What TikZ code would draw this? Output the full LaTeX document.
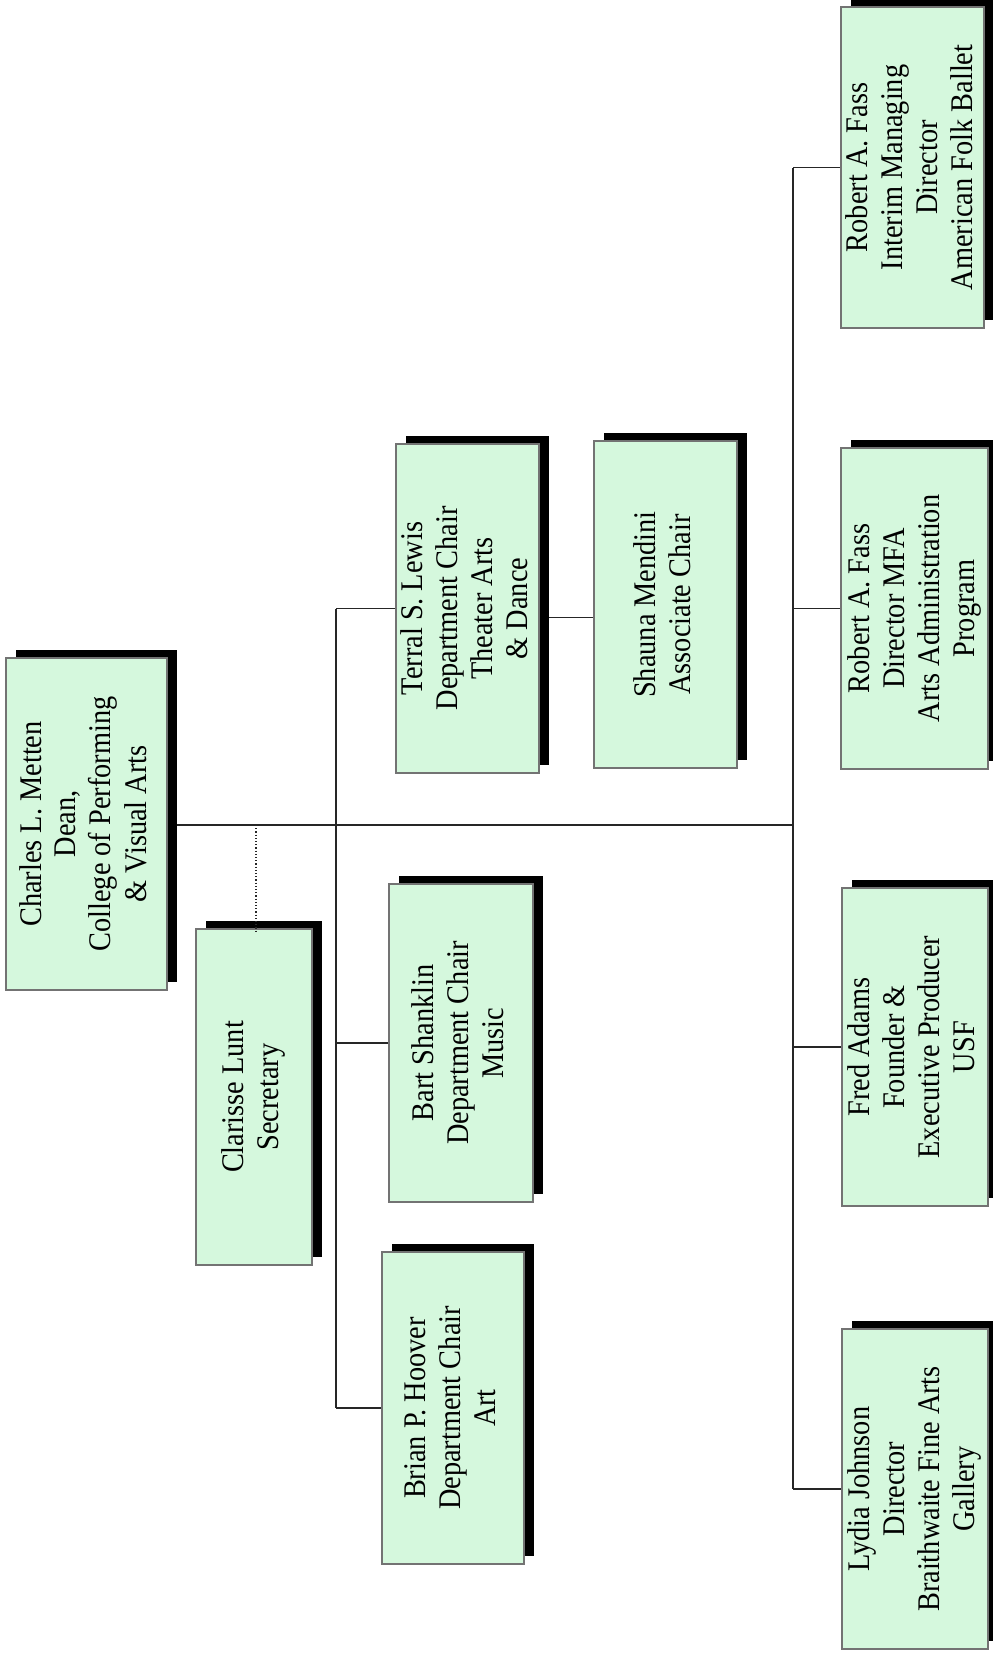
\documentclass[tikz,border=0pt]{standalone}
\usepackage{fontspec}
\setmainfont{Liberation Serif}[FakeStretch=0.9]
\usetikzlibrary{shadows,backgrounds}
\definecolor{boxgreen}{RGB}{213,248,221}
\definecolor{boxedge}{RGB}{115,115,115}
\newcommand{\boxtext}[1]{\rotatebox{90}{\fontsize{31.5}{35}\selectfont\begin{tabular}{@{}c@{}}#1\end{tabular}}}
\begin{document}
\begin{tikzpicture}[x=1pt,y=-1pt,
  orgbox/.style={draw=boxedge, line width=1.2pt, fill=boxgreen, inner sep=0pt,
    general shadow={fill=black, shadow xshift=10pt, shadow yshift=8pt}},
  wire/.style={draw=black!85, line width=1.2pt}]
\useasboundingbox (0,0) rectangle (993,1655);

\node[orgbox, minimum width=161pt, minimum height=332pt] (dean) at (86.5,824) {\boxtext{Charles L. Metten\\Dean,\\College of Performing\\\& Visual Arts}};
\node[orgbox, minimum width=116pt, minimum height=336pt] (sec) at (254,1097) {\boxtext{Clarisse Lunt\\Secretary}};
\node[orgbox, minimum width=143pt, minimum height=329pt] (terral) at (467.5,608.5) {\boxtext{Terral S. Lewis\\Department Chair\\Theater Arts\\\& Dance}};
\node[orgbox, minimum width=143pt, minimum height=327pt] (shauna) at (665.5,604.5) {\boxtext{Shauna Mendini\\Associate Chair}};
\node[orgbox, minimum width=144pt, minimum height=318pt] (bart) at (461,1043) {\boxtext{Bart Shanklin\\Department Chair\\Music}};
\node[orgbox, minimum width=142pt, minimum height=312pt] (brian) at (453,1408) {\boxtext{Brian P. Hoover\\Department Chair\\Art}};
\node[orgbox, minimum width=143pt, minimum height=321pt] (afb) at (912.5,167.5) {\boxtext{Robert A. Fass\\Interim Managing\\Director\\American Folk Ballet}};
\node[orgbox, minimum width=147pt, minimum height=321pt] (mfa) at (914.5,608.5) {\boxtext{Robert A. Fass\\Director MFA\\Arts Administration\\Program}};
\node[orgbox, minimum width=146pt, minimum height=318pt] (fred) at (915,1047) {\boxtext{Fred Adams\\Founder \&\\Executive Producer\\USF}};
\node[orgbox, minimum width=146pt, minimum height=320pt] (lydia) at (915,1489) {\boxtext{Lydia Johnson\\Director\\Braithwaite Fine Arts\\Gallery}};

\coordinate (rj) at (793,825);
\coordinate (lj) at (336,825);

\begin{pgfonlayer}{background}
\draw[wire] (dean.east |- rj) -- (rj);
\draw[wire] (lj |- terral.west) -- (lj |- brian.west);
\draw[wire] (lj |- terral.west) -- (terral.west);
\draw[wire] (lj |- bart.west) -- (bart.west);
\draw[wire] (lj |- brian.west) -- (brian.west);
\draw[wire] ([yshift=-9pt]terral.east) -- ([yshift=-9pt]terral.east -| shauna.west);
\draw[wire] (rj |- afb.west) -- (rj |- lydia.west);
\draw[wire] (rj |- afb.west) -- (afb.west);
\draw[wire] (rj |- mfa.west) -- (mfa.west);
\draw[wire] (rj |- fred.west) -- (fred.west);
\draw[wire] (rj |- lydia.west) -- (lydia.west);
\end{pgfonlayer}
\draw[wire, dotted] ([xshift=2pt]sec.north |- rj) -- ([xshift=2pt,yshift=-4pt]sec.north);
\end{tikzpicture}
\end{document}
